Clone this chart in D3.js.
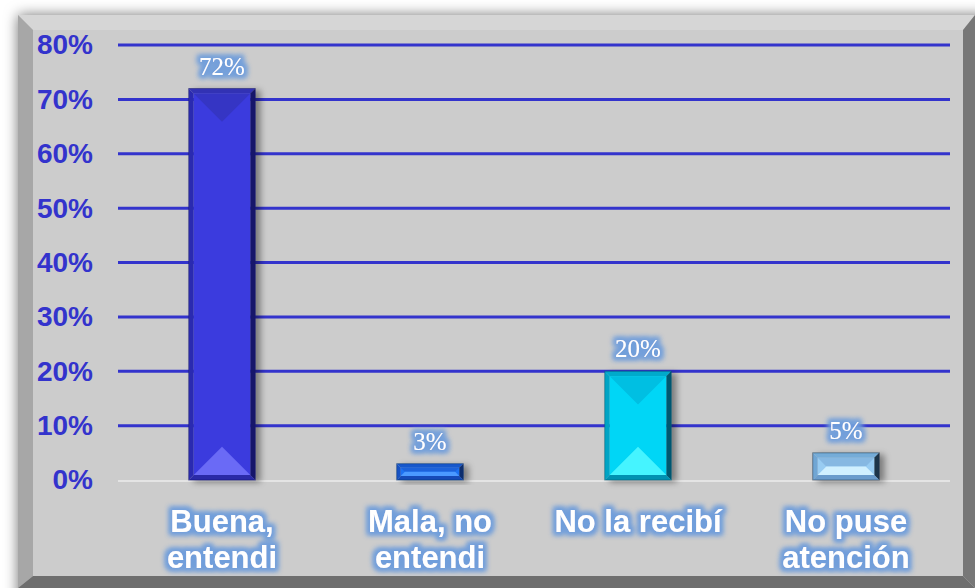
<!DOCTYPE html>
<html>
<head>
<meta charset="utf-8">
<script src="https://cdn.jsdelivr.net/npm/d3@7"></script>
<style>
  html, body { margin: 0; padding: 0; background: #fff; }
  svg { display: block; }
</style>
</head>
<body>
<svg width="975" height="588"></svg>
<script>
// chart data
const categories = [["Buena,", "entendi"], ["Mala, no", "entendi"], ["No la recibí"], ["No puse", "atención"]];
const values = [0.72, 0.03, 0.20, 0.05];
const valueLabels = ["72%", "3%", "20%", "5%"];
const ticks = [0, 0.1, 0.2, 0.3, 0.4, 0.5, 0.6, 0.7, 0.8];

// bar palettes: outer bevel (top, left, right, bottom), inner base, inner top/bottom triangles
const palettes = [
  {oTop: "#3232b4", oLeft: "#2c2cb0", oRight: "#16166a", oBot: "#2a2aa8", base: "#3b3bde", tTop: "#3535c4", tBot: "#6a6af6"},
  {oTop: "#1558cc", oLeft: "#1452c4", oRight: "#0a2e6e", oBot: "#124cb8", base: "#1f72f2", tTop: "#1a62da", tBot: "#4c9aff"},
  {oTop: "#00aacb", oLeft: "#00a4c4", oRight: "#005870", oBot: "#0092b2", base: "#04d6f6", tTop: "#00bfe2", tBot: "#44f4ff"},
  {oTop: "#74acd8", oLeft: "#70a6d4", oRight: "#1e3448", oBot: "#6a9ccc", base: "#98ccf2", tTop: "#86b8e2", tBot: "#d0f0ff"}
];

const svg = d3.select("svg");
const defs = svg.append("defs");

// frame shadow
const fs = defs.append("filter").attr("id", "frameShadow")
  .attr("x", "-10%").attr("y", "-10%").attr("width", "120%").attr("height", "120%");
fs.append("feDropShadow").attr("dx", 0).attr("dy", 0).attr("stdDeviation", 7)
  .attr("flood-color", "#000").attr("flood-opacity", 0.55);

// bar shadow
const bs = defs.append("filter").attr("id", "barShadow")
  .attr("x", "-30%").attr("y", "-30%").attr("width", "160%").attr("height", "160%");
bs.append("feDropShadow").attr("dx", 5).attr("dy", 2).attr("stdDeviation", 3)
  .attr("flood-color", "#000").attr("flood-opacity", 0.4);

// glow for the white texts
function glow(id, r, blur, color, op) {
  const f = defs.append("filter").attr("id", id)
    .attr("x", "-20%").attr("y", "-30%").attr("width", "140%").attr("height", "160%");
  f.append("feMorphology").attr("in", "SourceAlpha").attr("operator", "dilate").attr("radius", r).attr("result", "d");
  f.append("feGaussianBlur").attr("in", "d").attr("stdDeviation", blur).attr("result", "b");
  f.append("feFlood").attr("flood-color", color).attr("flood-opacity", op);
  f.append("feComposite").attr("in2", "b").attr("operator", "in").attr("result", "g");
  const m = f.append("feMerge");
  m.append("feMergeNode").attr("in", "g");
  m.append("feMergeNode").attr("in", "g");
  m.append("feMergeNode").attr("in", "SourceGraphic");
}
glow("glowBig", 3, 2.5, "#6f9ddb", 0.85);
glow("glowSmall", 3, 2.5, "#6f9ddb", 0.8);

// bevelled frame
const fx0 = 18, fy0 = 15, fx1 = 975, fy1 = 588, bev = 15, bevR = 12;
svg.append("rect").attr("x", fx0).attr("y", fy0).attr("width", fx1 - fx0 + 20).attr("height", fy1 - fy0 + 20)
  .attr("fill", "#cdcdcd").attr("filter", "url(#frameShadow)");
const ix0 = fx0 + bev, iy0 = fy0 + bev, ix1 = fx1 - bevR, iy1 = fy1 - bevR;
const poly = (sel, pts, fill) => sel.append("polygon").attr("points", pts.map(p => p.join(",")).join(" ")).attr("fill", fill);
poly(svg, [[fx0, fy0], [fx1, fy0], [ix1, iy0], [ix0, iy0]], "#d6d6d6");
poly(svg, [[fx0, fy0], [ix0, iy0], [ix0, iy1], [fx0, fy1]], "#a7a7a7");
poly(svg, [[fx1, fy0], [fx1, fy1], [ix1, iy1], [ix1, iy0]], "#777777");
poly(svg, [[fx0, fy1], [ix0, iy1], [ix1, iy1], [fx1, fy1]], "#6e6e6e");
svg.append("rect").attr("x", ix0).attr("y", iy0).attr("width", ix1 - ix0).attr("height", iy1 - iy0).attr("fill", "#cccccc");

// scales
const x = d3.scaleBand().domain(d3.range(categories.length)).range([118, 950])
  .paddingInner(0.68).paddingOuter(0.34);
const y = d3.scaleLinear().domain([0, 0.8]).range([480, 45]);

// gridlines
svg.append("g").selectAll("line").data(ticks.filter(t => t > 0)).join("line")
  .attr("x1", 118).attr("x2", 950)
  .attr("y1", d => y(d)).attr("y2", d => y(d))
  .attr("stroke", "#3333cc").attr("stroke-width", 3);

// baseline
svg.append("line").attr("x1", 118).attr("x2", 950).attr("y1", y(0) + 1).attr("y2", y(0) + 1)
  .attr("stroke", "#e4e4e4").attr("stroke-width", 2);

// y axis labels
const yAxis = svg.append("g").attr("transform", "translate(100,0)")
  .call(d3.axisLeft(y).tickValues(ticks).tickFormat(d3.format(".0%")).tickSize(0).tickPadding(7));
yAxis.select(".domain").remove();
yAxis.selectAll("text")
  .attr("fill", "#3333cc")
  .attr("font-family", "Liberation Sans, Arial, sans-serif")
  .attr("font-weight", "bold")
  .attr("font-size", 28);

// bevelled bars
const bars = svg.append("g").selectAll("g").data(values).join("g").attr("filter", "url(#barShadow)");
bars.each(function (v, i) {
  const g = d3.select(this), p = palettes[i];
  const x0 = x(i), x1 = x(i) + x.bandwidth(), y0 = y(v), y1 = y(0);
  const e = Math.min(5, (y1 - y0) / 4);
  const a0 = x0 + e, a1 = x1 - e, b0 = y0 + e, b1 = y1 - e;
  const cx = (a0 + a1) / 2;
  const t = Math.min((a1 - a0) / 2, (b1 - b0) / 2);
  // outer bevel
  poly(g, [[x0, y0], [x1, y0], [a1, b0], [a0, b0]], p.oTop);
  poly(g, [[x0, y0], [a0, b0], [a0, b1], [x0, y1]], p.oLeft);
  poly(g, [[x1, y0], [x1, y1], [a1, b1], [a1, b0]], p.oRight);
  poly(g, [[x0, y1], [a0, b1], [a1, b1], [x1, y1]], p.oBot);
  // inner face
  g.append("rect").attr("x", a0).attr("y", b0).attr("width", a1 - a0).attr("height", b1 - b0).attr("fill", p.base);
  poly(g, [[a0, b0], [a1, b0], [a1 - t, b0 + t], [a0 + t, b0 + t]], p.tTop);
  poly(g, [[a0, b1], [a1, b1], [a1 - t, b1 - t], [a0 + t, b1 - t]], p.tBot);
  g.append("rect").attr("x", x0).attr("y", y0).attr("width", x1 - x0).attr("height", y1 - y0)
    .attr("fill", "none").attr("stroke", p.oRight).attr("stroke-opacity", 0.5).attr("stroke-width", 1);
});

// value labels
svg.append("g").selectAll("text").data(values).join("text")
  .attr("x", (d, i) => x(i) + x.bandwidth() / 2)
  .attr("y", d => y(d) - 14)
  .attr("text-anchor", "middle")
  .attr("font-family", "Liberation Serif, Times New Roman, serif")
  .attr("font-size", 25)
  .attr("fill", "#ffffff")
  .attr("filter", "url(#glowSmall)")
  .text((d, i) => valueLabels[i]);

// category labels
const cat = svg.append("g").selectAll("text").data(categories).join("text")
  .attr("x", (d, i) => x(i) + x.bandwidth() / 2)
  .attr("y", 532)
  .attr("text-anchor", "middle")
  .attr("font-family", "Liberation Sans, Arial, sans-serif")
  .attr("font-weight", "bold")
  .attr("font-size", 31)
  .attr("fill", "#ffffff")
  .attr("filter", "url(#glowBig)");
cat.each(function (lines, i) {
  d3.select(this).selectAll("tspan").data(lines).join("tspan")
    .attr("x", x(i) + x.bandwidth() / 2)
    .attr("dy", (d, j) => j === 0 ? 0 : 36)
    .text(d => d);
});
</script>
</body>
</html>
